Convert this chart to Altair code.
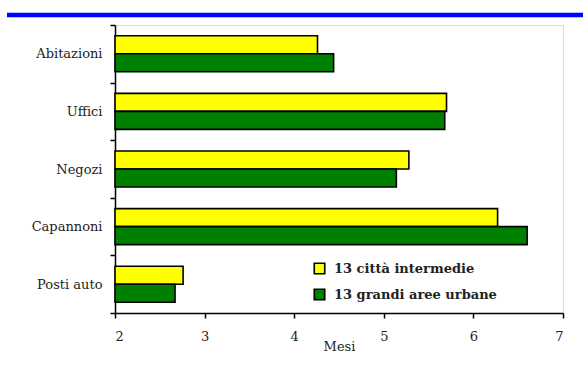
import altair as alt
import pandas as pd

# Tempi medi di vendita/locazione (mesi) per tipologia di immobile
categorie = ["Abitazioni", "Uffici", "Negozi", "Capannoni", "Posti auto"]
citta_intermedie = [4.26, 5.70, 5.28, 6.27, 2.76]
grandi_aree = [4.44, 5.68, 5.14, 6.60, 2.67]
serie = ["13 città intermedie", "13 grandi aree urbane"]
colori = ["#FFFF00", "#008000"]
tick_x = [2, 3, 4, 5, 6, 7]

rows = []
for c, a, b in zip(categorie, citta_intermedie, grandi_aree):
    rows.append({"tipo": c, "serie": serie[0], "mesi": a})
    rows.append({"tipo": c, "serie": serie[1], "mesi": b})
df = pd.DataFrame(rows)

FONT = "DejaVu Serif"

bars = alt.Chart(df).mark_bar(stroke="black", strokeWidth=1.6).encode(
    y=alt.Y(
        "tipo:N",
        sort=categorie,
        title=None,
        scale=alt.Scale(paddingInner=0, paddingOuter=0),
        axis=alt.Axis(
            tickBand="extent",
            tickSize=5,
            tickWidth=1.5,
            tickColor="black",
            domainColor="black",
            domainWidth=1.5,
            labelFont=FONT,
            labelFontSize=13,
            labelColor="#222222",
            labelPadding=8,
            grid=False,
        ),
    ),
    yOffset=alt.YOffset(
        "serie:N",
        sort=serie,
        scale=alt.Scale(paddingInner=0, paddingOuter=0.6),
    ),
    x=alt.X(
        "mesi:Q",
        title="Mesi",
        scale=alt.Scale(domain=[2, 7], nice=False, zero=False),
        axis=alt.Axis(
            values=tick_x,
            format="d",
            tickSize=5,
            tickWidth=1.5,
            tickColor="black",
            domainColor="black",
            domainWidth=1.5,
            labelFont=FONT,
            labelFontSize=13,
            labelColor="#222222",
            labelPadding=12,
            titleFont=FONT,
            titleFontSize=13,
            titleFontWeight="normal",
            titleColor="#222222",
            titlePadding=-3,
            grid=False,
        ),
    ),
    x2=alt.X2(datum=2),
    color=alt.Color(
        "serie:N",
        sort=serie,
        scale=alt.Scale(domain=serie, range=colori),
        legend=alt.Legend(
            title=None,
            orient="none",
            legendX=198,
            legendY=237,
            symbolType="square",
            symbolSize=110,
            symbolStrokeColor="black",
            symbolStrokeWidth=1.6,
            symbolOpacity=1,
            labelFont=FONT,
            labelFontSize=13,
            labelFontWeight="bold",
            labelColor="#222222",
            labelLimit=400,
            rowPadding=9,
            labelOffset=8,
            padding=0,
        ),
    ),
)

# Filetto blu in testata
banner = alt.Chart(pd.DataFrame({"k": [0]})).mark_rule(
    color="#0000FF", strokeWidth=4.6
).encode(
    x=alt.value(-108), x2=alt.value(468), y=alt.value(-10)
)

chart = (
    alt.layer(bars, banner)
    .properties(
        width=448,
        height=288,
        autosize=alt.AutoSizeParams(type="none"),
        padding={"left": 115, "top": 25, "right": 20, "bottom": 55},
    )
    .configure_view(stroke=None)
    .configure(background="white", font=FONT)
)

chart.save("out.html", embed_options={"renderer": "svg", "actions": False})
